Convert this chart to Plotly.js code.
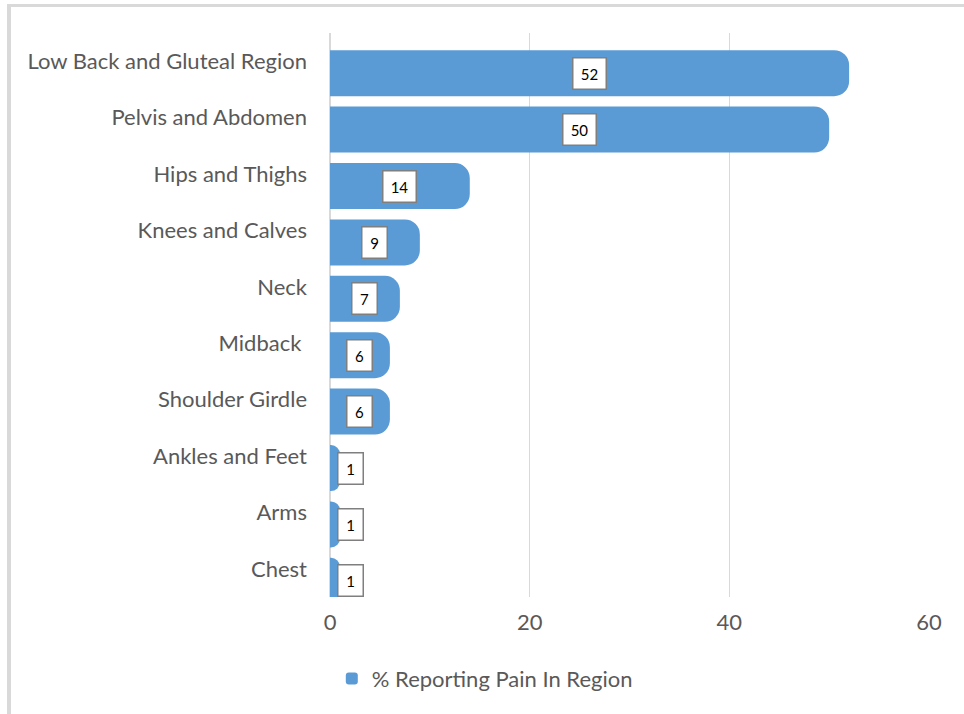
<!DOCTYPE html>
<html>
<head>
<meta charset="utf-8">
<script src="https://cdn.plot.ly/plotly-3.0.1.min.js"></script>
<style>
  html, body { margin: 0; padding: 0; background: #ffffff; }
  #wrap { position: relative; width: 964px; height: 714px; overflow: hidden; }
  #frame { position: absolute; left: 7px; top: 4px; width: 970px; height: 720px;
           border-top: 3px solid #d9d9d9; border-left: 4px solid #d9d9d9; box-sizing: border-box; pointer-events: none; z-index: 5; }
  #chart { position: absolute; left: 0; top: 0; width: 964px; height: 714px; }
</style>
</head>
<body>
<div id="wrap">
  <div id="chart"></div>
  <div id="frame"></div>
</div>
<script>
const categories = ["Low Back and Gluteal Region", "Pelvis and Abdomen", "Hips and Thighs", "Knees and Calves",
                    "Neck", "Midback ", "Shoulder Girdle", "Ankles and Feet", "Arms", "Chest"];
const values = [52, 50, 14, 9, 7, 6, 6, 1, 1, 1];
const seriesName = "% Reporting Pain In Region";
const xTicks = [0, 20, 40, 60];

const textColor = "#595959";
const font = "Lato, 'Open Sans', sans-serif";

// bar band (in category units): width and downward shift as in the reference
const barWidth = 0.816;
const barShift = 0.213;

const trace = {
  type: "bar",
  orientation: "h",
  y: categories,
  x: values,
  name: seriesName,
  width: barWidth,
  offset: barShift - barWidth / 2,
  marker: { color: "#5b9bd5" },
  hoverinfo: "skip"
};

const annotations = values.map((v, i) => ({
  x: Math.max(v / 2, 2.1),
  y: i + barShift,
  xref: "x", yref: "y",
  text: String(v),
  showarrow: false,
  font: { family: font, size: 15, color: "#000000" },
  width: v >= 10 ? 20 : 12,
  height: 18,
  bgcolor: "#ffffff",
  bordercolor: "#7f7f7f",
  borderwidth: 1.5,
  borderpad: 6
}));

const layout = {
  width: 964, height: 714,
  margin: { l: 330, r: 35, t: 33, b: 117 },
  paper_bgcolor: "#ffffff",
  plot_bgcolor: "#ffffff",
  font: { family: font, size: 22, color: textColor },
  barcornerradius: 15,
  showlegend: true,
  legend: {
    orientation: "h",
    x: 0.003, xanchor: "left",
    y: -0.145, yanchor: "middle",
    font: { family: font, size: 22, color: textColor }
  },
  xaxis: {
    range: [0, 60],
    tickvals: xTicks,
    ticktext: xTicks.map(String),
    showgrid: true, gridcolor: "#d9d9d9", gridwidth: 1.5,
    zeroline: true, zerolinecolor: "#d9d9d9", zerolinewidth: 1.5,
    showline: false, ticks: "",
    ticklabelstandoff: 10,
    tickfont: { family: font, size: 22, color: textColor },
    fixedrange: true
  },
  yaxis: {
    type: "category",
    range: [9.5, -0.5],
    showgrid: false, zeroline: false, showline: false, ticks: "",
    ticklabelstandoff: 22,
    tickfont: { family: font, size: 22, color: textColor },
    fixedrange: true
  },
  annotations: annotations
};

Plotly.newPlot("chart", [trace], layout, { displayModeBar: false, staticPlot: true });
</script>
</body>
</html>
